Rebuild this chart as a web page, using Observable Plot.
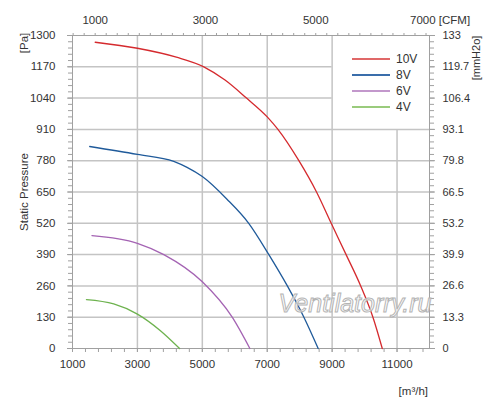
<!DOCTYPE html>
<html>
<head>
<meta charset="utf-8">
<script src="https://cdn.jsdelivr.net/npm/d3@7"></script>
<script src="https://cdn.jsdelivr.net/npm/@observablehq/plot@0.6"></script>
<style>
  html, body { margin: 0; padding: 0; background: #fff; }
  #wrap { position: relative; width: 500px; height: 410px; font-family: "Liberation Sans", Arial, sans-serif; }
  #legend { position: absolute; left: 352px; top: 51px; font-size: 12px; color: #333; }
  #legend .row { display: flex; align-items: center; height: 16px; }
  #legend .sw { width: 38px; height: 2px; margin-right: 6px; }
</style>
</head>
<body>
<div id="wrap"></div>
<script>
// ---- data (flow m³/h, static pressure Pa) ----
const flow10 = [1700, 3000, 4200, 5046, 5700, 6362, 7000, 7330, 7975, 8519, 8972, 9430, 9880, 10257, 10545];
const pres10 = [1272, 1247, 1210, 1170, 1115, 1040, 962, 910, 780, 650, 520, 390, 260, 130, 0];
const flow8 = [1530, 3000, 4120, 4530, 5000, 5760, 6430, 7050, 7620, 8130, 8570];
const pres8 = [839, 806, 777, 752, 714, 620, 520, 390, 260, 130, 0];
const flow6 = [1600, 3000, 3814, 5000, 5921, 6465];
const pres6 = [469, 437, 390, 277, 130, 0];
const flow4 = [1430, 2270, 3000, 3700, 4300];
const pres4 = [203, 185, 143, 75, 0];

const seriesNames = ["10V", "8V", "6V", "4V"];
const lineColors = ["#d52a2e", "#1f5a9a", "#a463b3", "#6db24e"];
const legendColors = ["#e06868", "#3a6eab", "#c398cc", "#9acb7c"];

// axis ticks
const xLabelTicks = [1000, 3000, 5000, 7000, 9000, 11000];
const yLabelTicks = [0, 130, 260, 390, 520, 650, 780, 910, 1040, 1170, 1300];
const cfmLabelTicks = [1000, 3000, 5000];
const cfmLastTick = 7000;
const cfmToM3h = 1.699;
const paToMm = 133 / 1300;

// grid lines (legend region is kept clear)
const gridX = [{x: 3000, top: 1300}, {x: 5000, top: 1300}, {x: 7000, top: 1300}, {x: 9000, top: 1300}, {x: 11000, top: 910}];
const gridY = [130, 260, 390, 520, 650, 780, 910, 1040, 1170].map(v => ({y: v, right: v > 910 ? 9000 : 12000}));

const minorX = d3.range(1000, 12000, 400);
const minorY = d3.range(0, 1301, 26);
const minorCfm = d3.range(600, 7001, 200).map(c => c * cfmToM3h);

const rows = [];
[[flow10, pres10], [flow8, pres8], [flow6, pres6], [flow4, pres4]].forEach(([f, p], i) => {
  f.forEach((v, j) => rows.push({series: seriesNames[i], flow: v, pressure: p[j]}));
});

const font = "Liberation Sans, Arial, sans-serif";
const gridColor = "#c4c4c4";
const axisColor = "#a0a0a0";
const textColor = "#333";
const fs = 11.5;

const chart = Plot.plot({
  width: 500,
  height: 410,
  marginLeft: 72,
  marginRight: 71,
  marginTop: 35,
  marginBottom: 62,
  style: {fontFamily: font, fontSize: fs + "px", color: textColor, background: "#fff"},
  x: {domain: [1000, 12000], axis: null},
  y: {domain: [0, 1300], axis: null},
  color: {domain: seriesNames, range: lineColors},
  marks: [
    Plot.ruleX(gridX, {x: "x", y1: 0, y2: "top", stroke: gridColor, strokeWidth: 1.5}),
    Plot.ruleY(gridY, {y: "y", x1: 1000, x2: "right", stroke: gridColor, strokeWidth: 1.5}),
    Plot.frame({stroke: axisColor, strokeWidth: 1}),
    // bottom axis
    Plot.axisX(minorX, {anchor: "bottom", tickSize: 4, tickFormat: () => "", stroke: axisColor, label: null}),
    Plot.axisX(xLabelTicks, {anchor: "bottom", tickSize: 4, tickPadding: 7, stroke: axisColor, fill: textColor, fontSize: fs, tickFormat: d => String(d), label: null}),
    // top axis (CFM)
    Plot.axisX(minorCfm, {anchor: "top", tickSize: 3, tickFormat: () => "", stroke: axisColor, label: null}),
    Plot.axisX(cfmLabelTicks.map(c => c * cfmToM3h), {anchor: "top", tickSize: 0, tickPadding: 12, fill: textColor, fontSize: fs, tickFormat: d => String(Math.round(d / cfmToM3h)), label: null}),
    Plot.axisX([cfmLastTick * cfmToM3h], {anchor: "top", tickSize: 0, tickPadding: 12, dx: 14, fill: textColor, fontSize: fs, tickFormat: () => cfmLastTick + " [CFM]", label: null}),
    // left axis
    Plot.axisY(minorY, {anchor: "left", tickSize: 4, tickFormat: () => "", stroke: axisColor, label: null}),
    Plot.axisY(yLabelTicks, {anchor: "left", tickSize: 5, tickPadding: 12, stroke: axisColor, fill: textColor, fontSize: fs, tickFormat: d => String(d), label: null}),
    // right axis (mmH2O)
    Plot.axisY(minorY, {anchor: "right", tickSize: 4, tickFormat: () => "", stroke: axisColor, label: null}),
    Plot.axisY(yLabelTicks, {anchor: "right", tickSize: 5, tickPadding: 8, stroke: axisColor, fill: textColor, fontSize: 11, tickFormat: d => String(+(d * paToMm).toFixed(1)), label: null}),
    // curves
    Plot.line(rows, {x: "flow", y: "pressure", z: "series", stroke: "series", strokeWidth: 1.3, curve: "monotone-x"})
  ]
});

const wrap = document.getElementById("wrap");
wrap.appendChild(chart);

// extra labels & watermark
const svg = d3.select(chart);
function addText(str, x, y, opts = {}) {
  return svg.append("text")
    .attr("x", 0).attr("y", 0)
    .attr("transform", `translate(${x},${y})` + (opts.rotate ? ` rotate(${opts.rotate})` : ""))
    .attr("text-anchor", opts.anchor || "middle")
    .attr("font-family", font)
    .attr("font-size", opts.size || fs)
    .attr("fill", opts.fill || textColor)
    .text(str);
}
addText("[Pa]", 28, 43, {rotate: -90});
addText("Static Pressure", 28, 192, {rotate: -90, size: 11.5});
addText("[mmH2o]", 479.5, 58, {rotate: -90, size: 11});
addText("[m³/h]", 428, 395, {anchor: "end"});
svg.append("text")
  .attr("x", 355).attr("y", 312)
  .attr("text-anchor", "middle")
  .attr("font-family", font)
  .attr("font-style", "italic")
  .attr("font-size", 25)
  .attr("fill", "#fff").attr("fill-opacity", 0.65)
  .attr("stroke", "#b4b4b4").attr("stroke-width", 1)
  .text("Ventilatorry.ru");

// legend
const legend = document.createElement("div");
legend.id = "legend";
seriesNames.forEach((n, i) => {
  const row = document.createElement("div");
  row.className = "row";
  const sw = document.createElement("div");
  sw.className = "sw";
  sw.style.background = legendColors[i];
  const lab = document.createElement("span");
  lab.textContent = n;
  row.appendChild(sw);
  row.appendChild(lab);
  legend.appendChild(row);
});
wrap.appendChild(legend);
</script>
</body>
</html>
